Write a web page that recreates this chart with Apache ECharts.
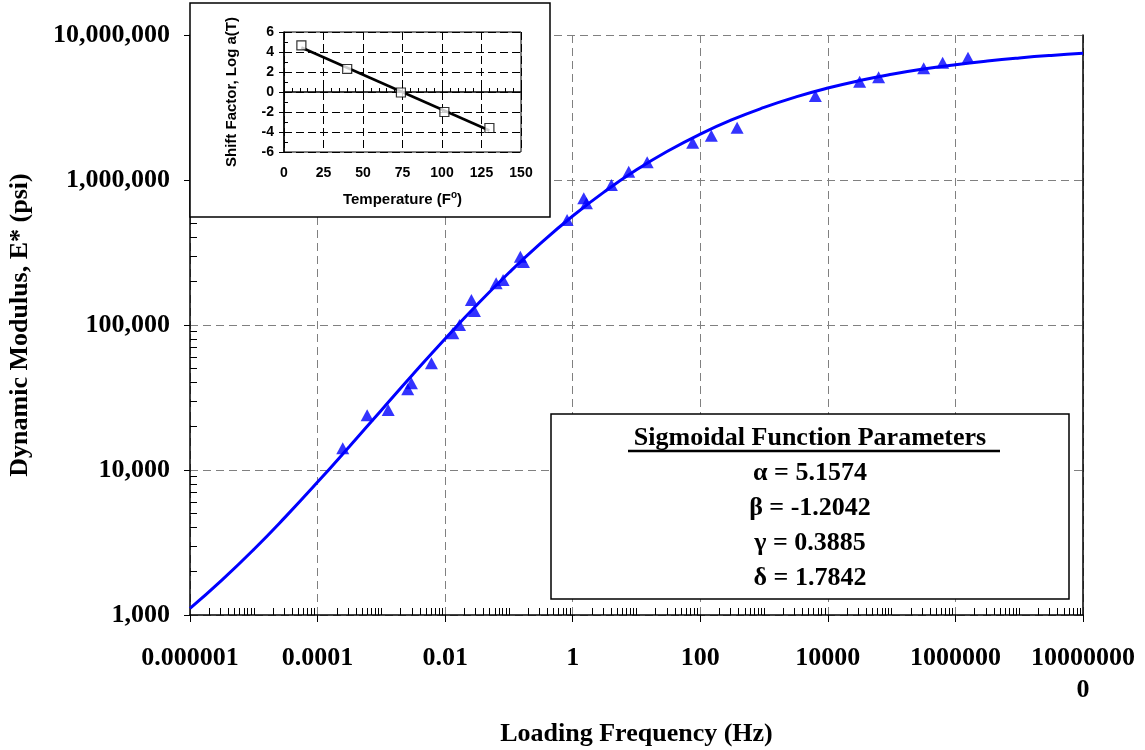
<!DOCTYPE html>
<html><head><meta charset="utf-8">
<script src="https://cdn.jsdelivr.net/npm/echarts@6/dist/echarts.min.js"></script>
<style>html,body{margin:0;padding:0;background:#fff}#c{width:1145px;height:750px}</style>
</head><body><div id="c"></div>
<script>
// ---- Main chart data ----
const measuredFreq = [2.48e-4, 5.99e-4, 1.28e-3, 2.59e-3, 2.96e-3, 6.1e-3, 0.0132, 0.0168, 0.0258, 0.0288, 0.063, 0.081, 0.151, 0.169, 0.817, 1.49, 1.64, 4.04, 7.55, 14.7, 76, 149, 378, 6370, 31500, 62500, 318000, 630000, 1575000];
const measuredModulus = [14100, 23900, 25900, 36000, 39600, 54400, 87700, 100000, 148700, 125000, 194000, 204000, 296000, 272000, 530000, 748000, 690000, 924000, 1141000, 1325000, 1807000, 2022000, 2296000, 3793000, 4764000, 5108000, 5890000, 6440000, 6970000];
const fitFreq = [1e-6, 3.16e-6, 1e-5, 3.16e-5, 1e-4, 3.16e-4, 1e-3, 3.16e-3, 0.01, 0.0316, 0.1, 0.316, 1, 3.16, 10, 31.6, 100, 316, 1000, 3160, 1e4, 3.16e4, 1e5, 3.16e5, 1e6, 3.16e6, 1e7, 3.16e7, 1e8];
const fitModulus = [1110, 1740, 2830, 4770, 8250, 14550, 25870, 45900, 80450, 137800, 229100, 367000, 564700, 831800, 1174700, 1591000, 2073000, 2606000, 3166000, 3740000, 4307000, 4850000, 5358000, 5826000, 6245000, 6616000, 6943000, 7228000, 7471000];

const xMajorTicks = [1e-6, 1e-4, 1e-2, 1, 1e2, 1e4, 1e6, 1e8];
const xTickLabels = ['0.000001', '0.0001', '0.01', '1', '100', '10000', '1000000', '10000000\n0'];
const yMajorTicks = [1e3, 1e4, 1e5, 1e6, 1e7];
const yTickLabels = ['1,000', '10,000', '100,000', '1,000,000', '10,000,000'];

// ---- Inset data ----
const insetTemp = [11, 40, 74, 101.5, 130];
const insetShift = [4.67, 2.3, -0.05, -2.0, -3.6];
const insetFitTemp = [11, 130];
const insetFitShift = [4.45, -3.85];

const paramTitle = 'Sigmoidal Function Parameters';
const paramLines = ['α = 5.1574', 'β = -1.2042', 'γ = 0.3885', 'δ = 1.7842'];

// minor log ticks (axis decoration)
const xMinorTicks = [];
for (let k = -6; k < 8; k++) {
  for (let m = 1; m <= 9; m++) {
    if (m === 1 && (k % 2 === 0)) continue;
    xMinorTicks.push(Number((m * Math.pow(10, k)).toPrecision(3)));
  }
}
const yMinorTicks = [];
for (let k = 3; k < 7; k++) {
  for (let m = 2; m <= 9; m++) yMinorTicks.push(Number((m * Math.pow(10, k)).toPrecision(3)));
}

function lookup(ticks, labels, v) {
  for (let i = 0; i < ticks.length; i++) {
    if (Math.abs(Math.log10(v) - Math.log10(ticks[i])) < 1e-6) return labels[i];
  }
  return '';
}

const serif = '"Liberation Serif", "Times New Roman", serif';
const sans = '"Liberation Sans", Arial, sans-serif';
const gridGray = '#808080';

const chart = echarts.init(document.getElementById('c'), null, {renderer: 'canvas'});

const option = {
  animation: false,
  backgroundColor: '#fff',
  grid: [
    {left: 190, top: 35, width: 893, height: 580, show: false, outerBoundsMode: 'none', containLabel: false},
    {left: 284, top: 32, width: 237, height: 120, show: true, backgroundColor: '#fff', borderColor: '#000', borderWidth: 1, z: 4, outerBoundsMode: 'none', containLabel: false}
  ],
  xAxis: [
    { // main major
      gridIndex: 0, type: 'log', logBase: 10, min: 1e-6, max: 1e8, position: 'bottom',
      name: 'Loading Frequency (Hz)', nameLocation: 'middle', nameGap: 106,
      nameTextStyle: {fontFamily: serif, fontWeight: 'bold', fontSize: 26, color: '#000'},
      axisLine: {show: true, lineStyle: {color: '#000', width: 1.5}},
      axisTick: {show: true, inside: false, length: 7, customValues: xMajorTicks, lineStyle: {color: '#000', width: 1}},
      axisLabel: {show: true, customValues: xMajorTicks, margin: 27, lineHeight: 32,
        fontFamily: serif, fontWeight: 'bold', fontSize: 26, color: '#000',
        formatter: v => lookup(xMajorTicks, xTickLabels, v)},
      splitLine: {show: true, lineStyle: {color: gridGray, type: [8, 5], width: 1}},
      minorTick: {show: false}, minorSplitLine: {show: false}
    },
    { // main minor ticks
      gridIndex: 0, type: 'log', logBase: 10, min: 1e-6, max: 1e8, position: 'bottom',
      axisLine: {show: false},
      axisTick: {show: true, inside: true, length: 7, customValues: xMinorTicks, lineStyle: {color: '#000', width: 1}},
      axisLabel: {show: false}, splitLine: {show: false}
    },
    { // inset major
      gridIndex: 1, type: 'value', min: 0, max: 150, interval: 25, position: 'bottom', z: 5,
      name: 'Temperature (F{sup|o})', nameLocation: 'middle', nameGap: 38,
      nameTextStyle: {fontFamily: sans, fontWeight: 'bold', fontSize: 15, color: '#000', lineHeight: 20,
        rich: {sup: {fontFamily: sans, fontWeight: 'bold', fontSize: 10, lineHeight: 20, verticalAlign: 'top', padding: [0, 0, 8, 0]}}},
      axisLine: {show: true, lineStyle: {color: '#000', width: 1.5}},
      axisTick: {show: true, inside: false, length: 5, lineStyle: {color: '#000'}},
      axisLabel: {margin: 14, fontFamily: sans, fontWeight: 'bold', fontSize: 14, color: '#000'},
      splitLine: {show: true, lineStyle: {color: '#000', type: [8, 4], width: 1}}
    },
    { // inset minor
      gridIndex: 1, type: 'value', min: 0, max: 150, interval: 5, position: 'bottom', z: 5,
      axisLine: {show: false},
      axisTick: {show: true, inside: true, length: 4, lineStyle: {color: '#000'}},
      axisLabel: {show: false}, splitLine: {show: false}
    }
  ],
  yAxis: [
    { // main major
      gridIndex: 0, type: 'log', logBase: 10, min: 1e3, max: 1e7, position: 'left',
      name: 'Dynamic Modulus, E* (psi)', nameLocation: 'middle', nameGap: 157, nameRotate: 90,
      nameTextStyle: {fontFamily: serif, fontWeight: 'bold', fontSize: 26, color: '#000'},
      axisLine: {show: true, lineStyle: {color: '#000', width: 1.5}},
      axisTick: {show: true, inside: false, length: 6, customValues: yMajorTicks, lineStyle: {color: '#000'}},
      axisLabel: {show: true, customValues: yMajorTicks, margin: 20,
        fontFamily: serif, fontWeight: 'bold', fontSize: 26, color: '#000',
        formatter: v => lookup(yMajorTicks, yTickLabels, v)},
      splitLine: {show: true, lineStyle: {color: gridGray, type: [8, 5], width: 1}}
    },
    { // main minor
      gridIndex: 0, type: 'log', logBase: 10, min: 1e3, max: 1e7, position: 'left',
      axisLine: {show: false},
      axisTick: {show: true, inside: true, length: 7, customValues: yMinorTicks, lineStyle: {color: '#000'}},
      axisLabel: {show: false}, splitLine: {show: false}
    },
    { // main right border
      gridIndex: 0, type: 'log', logBase: 10, min: 1e3, max: 1e7, position: 'right',
      axisLine: {show: true, lineStyle: {color: '#000', width: 1.5}},
      axisTick: {show: false}, axisLabel: {show: false}, splitLine: {show: false}
    },
    { // inset major
      gridIndex: 1, type: 'value', min: -6, max: 6, interval: 2, position: 'left', z: 5,
      name: 'Shift Factor, Log a(T)', nameLocation: 'middle', nameGap: 45, nameRotate: 90,
      nameTextStyle: {fontFamily: sans, fontWeight: 'bold', fontSize: 15, color: '#000'},
      axisLine: {show: true, lineStyle: {color: '#000', width: 1.5}},
      axisTick: {show: true, inside: false, length: 5, lineStyle: {color: '#000'}},
      axisLabel: {margin: 10, fontFamily: sans, fontWeight: 'bold', fontSize: 14, color: '#000'},
      splitLine: {show: true, lineStyle: {color: '#000', type: [8, 4], width: 1}}
    },
    { // inset minor
      gridIndex: 1, type: 'value', min: -6, max: 6, interval: 1, position: 'left', z: 5,
      axisLine: {show: false},
      axisTick: {show: true, inside: true, length: 4, lineStyle: {color: '#000'}},
      axisLabel: {show: false}, splitLine: {show: false}
    }
  ],
  series: [
    {
      type: 'line', xAxisIndex: 0, yAxisIndex: 0, z: 2,
      data: fitFreq.map((f, i) => [f, fitModulus[i]]),
      smooth: true, showSymbol: false, symbol: 'none',
      lineStyle: {color: '#0000FF', width: 3}
    },
    {
      type: 'scatter', xAxisIndex: 0, yAxisIndex: 0, z: 2,
      data: measuredFreq.map((f, i) => [f, measuredModulus[i]]),
      symbol: 'triangle', symbolSize: [13, 12],
      itemStyle: {color: '#0000FF'}
    },
    {
      type: 'line', xAxisIndex: 2, yAxisIndex: 3, z: 6,
      data: insetFitTemp.map((t, i) => [t, insetFitShift[i]]),
      showSymbol: false, symbol: 'none',
      lineStyle: {color: '#000', width: 2.5}
    },
    {
      type: 'scatter', xAxisIndex: 2, yAxisIndex: 3, z: 7,
      data: insetTemp.map((t, i) => [t, insetShift[i]]),
      symbol: 'rect', symbolSize: 9,
      itemStyle: {color: '#fff', borderColor: '#000', borderWidth: 1.2}
    }
  ],
  graphic: [
    {type: 'rect', z: 3, shape: {x: 190, y: 3, width: 360, height: 214},
      style: {fill: '#fff', stroke: '#000', lineWidth: 1.5}},
    {type: 'rect', z: 3, shape: {x: 551, y: 414, width: 518, height: 185},
      style: {fill: '#fff', stroke: '#000', lineWidth: 1.5}},
    {type: 'text', z: 4, x: 810, y: 438,
      style: {text: paramTitle, fill: '#000', font: 'bold 26px ' + serif, align: 'center', verticalAlign: 'middle'}},
    {type: 'line', z: 4, shape: {x1: 628, y1: 451, x2: 1000, y2: 451},
      style: {stroke: '#000', lineWidth: 2.5}},
    {type: 'text', z: 4, x: 810, y: 473,
      style: {text: paramLines[0], fill: '#000', font: 'bold 26px ' + serif, align: 'center', verticalAlign: 'middle'}},
    {type: 'text', z: 4, x: 810, y: 508,
      style: {text: paramLines[1], fill: '#000', font: 'bold 26px ' + serif, align: 'center', verticalAlign: 'middle'}},
    {type: 'text', z: 4, x: 810, y: 543,
      style: {text: paramLines[2], fill: '#000', font: 'bold 26px ' + serif, align: 'center', verticalAlign: 'middle'}},
    {type: 'text', z: 4, x: 810, y: 578,
      style: {text: paramLines[3], fill: '#000', font: 'bold 26px ' + serif, align: 'center', verticalAlign: 'middle'}}
  ]
};
chart.setOption(option);
</script>
</body></html>
